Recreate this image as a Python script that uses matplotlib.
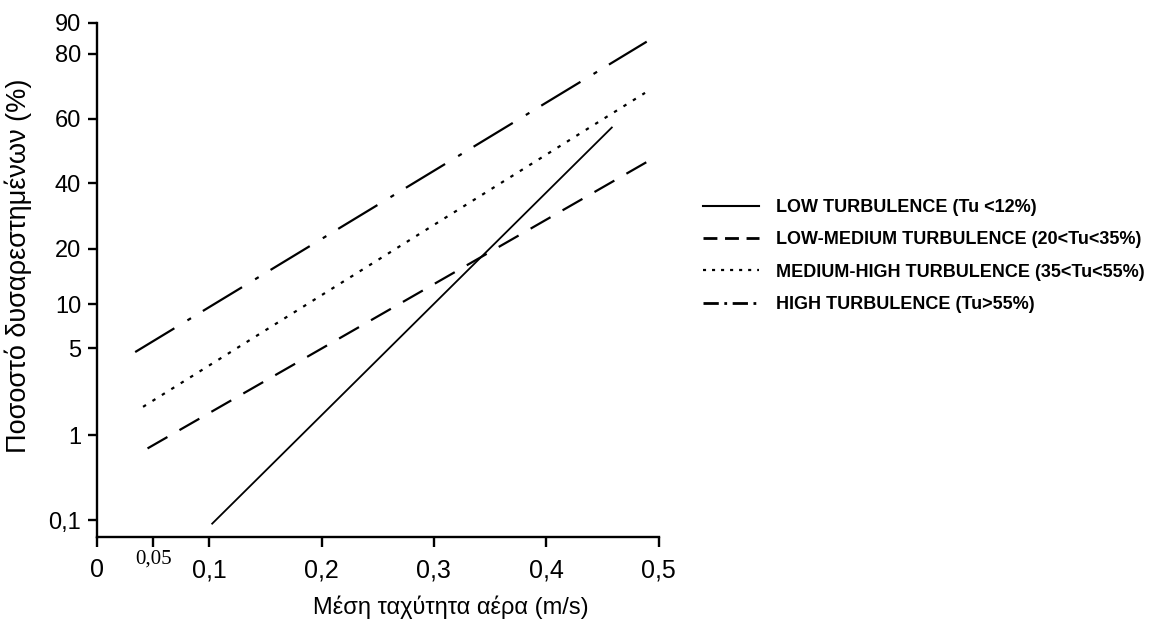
import numpy as np
import matplotlib
matplotlib.use("Agg")
import matplotlib.pyplot as plt
from matplotlib.lines import Line2D

plt.rcParams['font.family'] = ['Liberation Sans', 'DejaVu Sans']
plt.rcParams['lines.scale_dashes'] = False

# ---------------- data ----------------
series_labels = ["LOW TURBULENCE (Tu <12%)",
                 "LOW-MEDIUM TURBULENCE (20<Tu<35%)",
                 "MEDIUM-HIGH TURBULENCE (35<Tu<55%)",
                 "HIGH TURBULENCE (Tu>55%)"]
low_x = [0.102, 0.459]
low_y = [0.089, 57.0]
lowmed_x = [0.045, 0.499]
lowmed_y = [0.70, 47.5]
medhigh_x = [0.041, 0.488]
medhigh_y = [1.69, 67.3]
high_x = [0.034, 0.4895]
high_y = [4.64, 83.8]

x_ticks = [0, 0.05, 0.1, 0.2, 0.3, 0.4, 0.5]
x_ticklabels = ["0", "0,05", "0,1", "0,2", "0,3", "0,4", "0,5"]
y_ticks = [0.1, 1, 5, 10, 20, 40, 60, 80, 90]
y_ticklabels = ["0,1", "1", "5", "10", "20", "40", "60", "80", "90"]

# ---------------- custom (non-uniform) percentage scale ----------------
# scale definition: tick value -> relative axis position
_scale_vals = np.log10(np.array(y_ticks, dtype=float))
_scale_pos = np.array([16.7, 101.4, 188.7, 232.7, 288.0, 353.4, 418.0, 482.7, 514.0])


def _interp_ext(x, xp, fp):
    x = np.asarray(x, dtype=float)
    y = np.interp(x, xp, fp)
    lo_slope = (fp[1] - fp[0]) / (xp[1] - xp[0])
    hi_slope = (fp[-1] - fp[-2]) / (xp[-1] - xp[-2])
    y = np.where(x < xp[0], fp[0] + (x - xp[0]) * lo_slope, y)
    y = np.where(x > xp[-1], fp[-1] + (x - xp[-1]) * hi_slope, y)
    return y


def fwd(v):
    v = np.clip(np.asarray(v, dtype=float), 1e-6, None)
    return _interp_ext(np.log10(v), _scale_vals, _scale_pos)


def inv(p):
    return 10 ** _interp_ext(p, _scale_pos, _scale_vals)


# ---------------- figure ----------------
W, H = 1154, 620
fig = plt.figure(figsize=(W / 100, H / 100), dpi=100)
ax = fig.add_axes([97 / W, 1 - 536.7 / H, (658.5 - 97) / W, (536.7 - 22.7) / H])
ax.set_yscale('function', functions=(fwd, inv))

ax.plot(low_x, low_y, color='black', lw=1.3, solid_capstyle='butt')
ax.plot(lowmed_x, lowmed_y, color='black', lw=1.6, dashes=(16.5, 10))
ax.plot(medhigh_x, medhigh_y, color='black', lw=1.6, dashes=(2.5, 5.5))
ax.plot(high_x, high_y, color='black', lw=1.6, dashes=(33, 11, 3, 10))

ax.set_xlim(0, 0.5)
ax.set_ylim(float(inv(0.0)), 90)

ax.set_xticks(x_ticks)
ax.set_xticklabels(x_ticklabels)
ax.set_yticks(y_ticks)
ax.set_yticklabels(y_ticklabels)
ax.minorticks_off()

for s in ['top', 'right']:
    ax.spines[s].set_visible(False)
for s in ['left', 'bottom']:
    ax.spines[s].set_linewidth(1.7)

ax.tick_params(axis='y', length=6.5, width=1.7, labelsize=17, pad=5)
ax.tick_params(axis='x', length=7.5, width=1.7, labelsize=18, pad=8)

# the 0,05 label is set in a smaller serif face and sits higher
for lab in ax.get_xticklabels():
    if lab.get_text() == "0,05":
        lab.set_fontfamily(['Liberation Serif', 'DejaVu Serif'])
        lab.set_fontsize(15)
        lab.set_y(0.017)

ax.set_xlabel("Μέση ταχύτητα αέρα (m/s)", fontsize=17)
ax.xaxis.set_label_coords(0.63, -0.115)
ax.set_ylabel("Ποσοστό δυσαρεστημένων (%)", fontsize=19.5)
ax.yaxis.set_label_coords(-0.116, 0.527)

# legend (proxy handles with the legend's own dash patterns)
handles = [
    Line2D([], [], color='black', lw=1.5),
    Line2D([], [], color='black', lw=2.0, dashes=(10, 5.5)),
    Line2D([], [], color='black', lw=1.6, dashes=(2.2, 4.3)),
    Line2D([], [], color='black', lw=2.0, dashes=(11, 4, 2, 4)),
]
leg = fig.legend(handles, series_labels, loc='upper left',
                 bbox_to_anchor=(703 / W, 1 - 199 / H),
                 frameon=False, borderpad=0, borderaxespad=0,
                 handlelength=3.1, handletextpad=0.95, labelspacing=0.85,
                 prop={'family': ['Liberation Sans', 'DejaVu Sans'],
                       'weight': 'bold', 'size': 13})

fig.savefig("out.png", dpi=100)
